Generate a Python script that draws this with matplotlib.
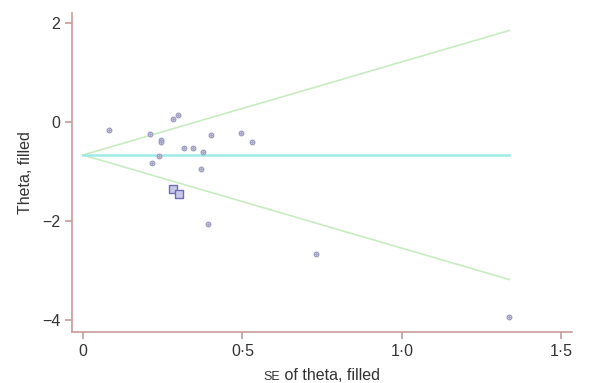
import matplotlib
matplotlib.use("Agg")
import matplotlib.pyplot as plt
import numpy as np
from matplotlib.offsetbox import TextArea, HPacker, AnchoredOffsetbox

plt.rcParams['font.family'] = ['Liberation Sans', 'DejaVu Sans']

# observed studies
obs_se = [0.082, 0.211, 0.283, 0.299, 0.246, 0.246, 0.318, 0.346, 0.400, 0.378,
          0.238, 0.215, 0.371, 0.496, 0.529, 0.391, 0.731, 1.337]
obs_theta = [-0.17, -0.24, 0.05, 0.15, -0.36, -0.40, -0.52, -0.52, -0.26, -0.61,
             -0.68, -0.83, -0.94, -0.22, -0.40, -2.05, -2.67, -3.94]
# filled (imputed) studies
fill_se = [0.283, 0.301]
fill_theta = [-1.36, -1.45]
# pooled estimate and pseudo-confidence limits
pooled = -0.667
z = 1.88
se_max = 1.337

xticks = [0, 0.5, 1.0, 1.5]
xticklabels = ["0", "0·5", "1·0", "1·5"]
yticks = [-4, -2, 0, 2]
yticklabels = ["\u22124", "\u22122", "0", "2"]

spine_col = "#c99a9a"
fig = plt.figure(figsize=(6.06, 3.83), dpi=100)
ax = fig.add_axes([72/606, 51/383, 500/606, 319/383])

se_line = np.array([0, se_max])
ax.plot(se_line, pooled + z*se_line, color="#c6ecc0", lw=1.2, zorder=1)
ax.plot(se_line, pooled - z*se_line, color="#c6ecc0", lw=1.2, zorder=1)
ax.plot(se_line, [pooled, pooled], color="#9eeae6", lw=1.8, zorder=2)

ax.scatter(obs_se, obs_theta, s=11, facecolor="#f2f2f8", edgecolor="#9a9ac0",
           linewidths=0.9, zorder=3)
ax.scatter(obs_se, obs_theta, s=1.0, color="#a0a0c4", zorder=4)
ax.scatter(fill_se, fill_theta, s=38, marker="s", facecolor="#c8c8e8",
           edgecolor="#6c6cb8", linewidths=1.0, zorder=3)

ax.set_xlim(-0.0345, 1.534)
ax.set_ylim(-4.24, 2.2)
for s in ["top", "right"]:
    ax.spines[s].set_visible(False)
for s in ["left", "bottom"]:
    ax.spines[s].set_color(spine_col)
    ax.spines[s].set_linewidth(1.2)
ax.set_xticks(xticks)
ax.set_xticklabels(xticklabels)
ax.set_yticks(yticks)
ax.set_yticklabels(yticklabels)
ax.tick_params(colors=spine_col, labelcolor="#333333", labelsize=11.5,
               length=5, width=1.2, direction="out")
ax.set_ylabel("Theta, filled", fontsize=11.5, color="#333333", labelpad=6)

t1 = TextArea("SE", textprops=dict(fontsize=9, color="#333333"))
t2 = TextArea(" of theta, filled", textprops=dict(fontsize=11.5, color="#333333"))
box = HPacker(children=[t1, t2], align="baseline", pad=0, sep=0)
ab = AnchoredOffsetbox(loc="center", child=box, frameon=False,
                       bbox_to_anchor=(0.5, -0.135), bbox_transform=ax.transAxes,
                       pad=0, borderpad=0)
ax.add_artist(ab)

fig.savefig("out.png", dpi=100)
